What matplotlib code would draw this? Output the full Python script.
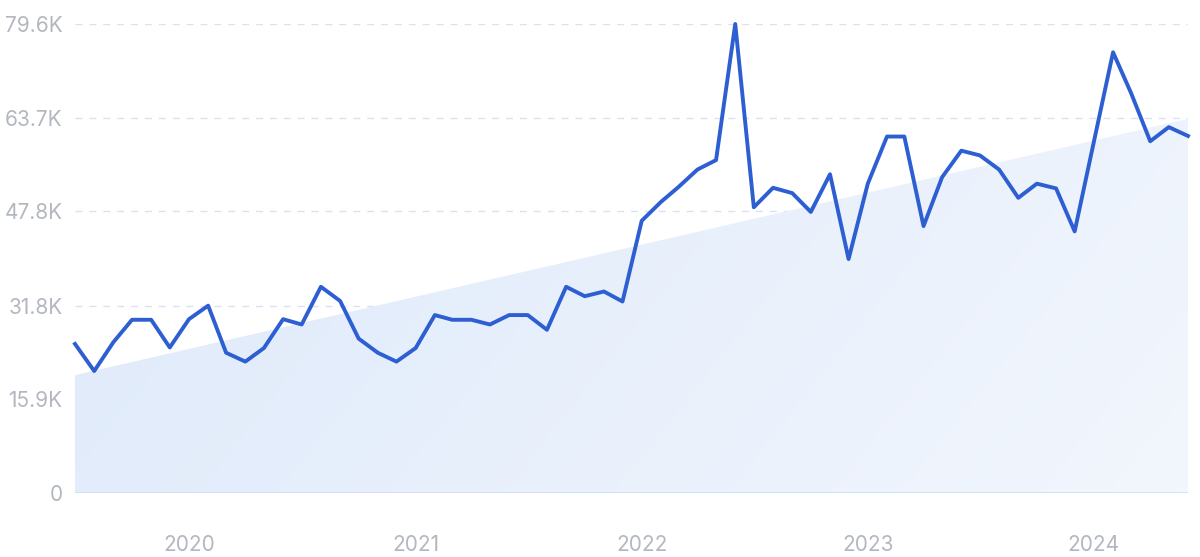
import matplotlib.pyplot as plt
import matplotlib.dates as mdates
from matplotlib.colors import LinearSegmentedColormap
import numpy as np
import pandas as pd

# monthly values, Jul 2019 .. Jun 2024 (thousands)
months = pd.date_range('2019-07-01', periods=60, freq='MS')
values = [25.3, 20.7, 25.6, 29.4, 29.4, 24.7, 29.5, 31.8, 23.8, 22.3,
          24.6, 29.5, 28.6, 35.0, 32.6, 26.2, 23.8, 22.3, 24.6, 30.2,
          29.4, 29.4, 28.6, 30.2, 30.2, 27.7, 35.0, 33.4, 34.2, 32.5,
          46.2, 49.4, 51.9, 54.9, 56.5, 79.6, 48.5, 51.8, 50.9, 47.7,
          54.1, 39.7, 52.5, 60.5, 60.5, 45.3, 53.6, 58.1, 57.3, 54.9,
          50.1, 52.5, 51.7, 44.4, 59.6, 74.8, 67.9, 59.7, 62.1, 60.6]
trend_ends = [20.0, 63.5]
yticks = [0, 15.9, 31.8, 47.8, 63.7, 79.6]
ytick_labels = ['0', '15.9K', '31.8K', '47.8K', '63.7K', '79.6K']
years = ['2020', '2021', '2022', '2023', '2024']

plt.rcParams['font.family'] = ['Inter', 'DejaVu Sans']

fig = plt.figure(figsize=(12, 5.57), dpi=100)
ax = fig.add_axes([0.0625, 0.1149, 0.9275, 0.842])

x = mdates.date2num(months)
x0, x1 = x[0], x[-1]
ax.set_xlim(x0, x1)
ax.set_ylim(0, 79.6)

# trend area with a soft gradient
trend = np.interp(x, [x0, x1], trend_ends)
poly = ax.fill_between(x, 0, trend, color='none', lw=0)
cmap = LinearSegmentedColormap.from_list('fill', ['#dde9fa', '#f2f6fd'])
gx, gy = np.meshgrid(np.linspace(0, 1, 200), np.linspace(0, 1, 100))
grad = 0.75 * gx + 0.25 * gy
img = ax.imshow(grad, cmap=cmap, extent=[x0, x1, 0, 79.6], aspect='auto',
                origin='upper', zorder=1)
img.set_clip_path(poly.get_paths()[0], transform=ax.transData)

for yv in yticks[1:]:
    ax.axhline(yv, color='#d8e2f1', lw=1, ls=(0, (5, 5)), zorder=0)
ax.axhline(0, color='#cddff5', lw=1.2, zorder=2)

ax.plot(x, values, color='#2d5fd3', lw=2.8, solid_joinstyle='round',
        zorder=3, clip_on=False)

ax.set_yticks(yticks)
ax.set_yticklabels(ytick_labels)
ax.set_xticks([mdates.date2num(pd.Timestamp(y + '-01-01')) for y in years])
ax.set_xticklabels(years)
ax.tick_params(axis='both', length=0, labelsize=15, colors='#b3b7bf')
ax.tick_params(axis='y', pad=9)
ax.tick_params(axis='x', pad=30)
for s in ax.spines.values():
    s.set_visible(False)

fig.savefig('out.png', dpi=100)
